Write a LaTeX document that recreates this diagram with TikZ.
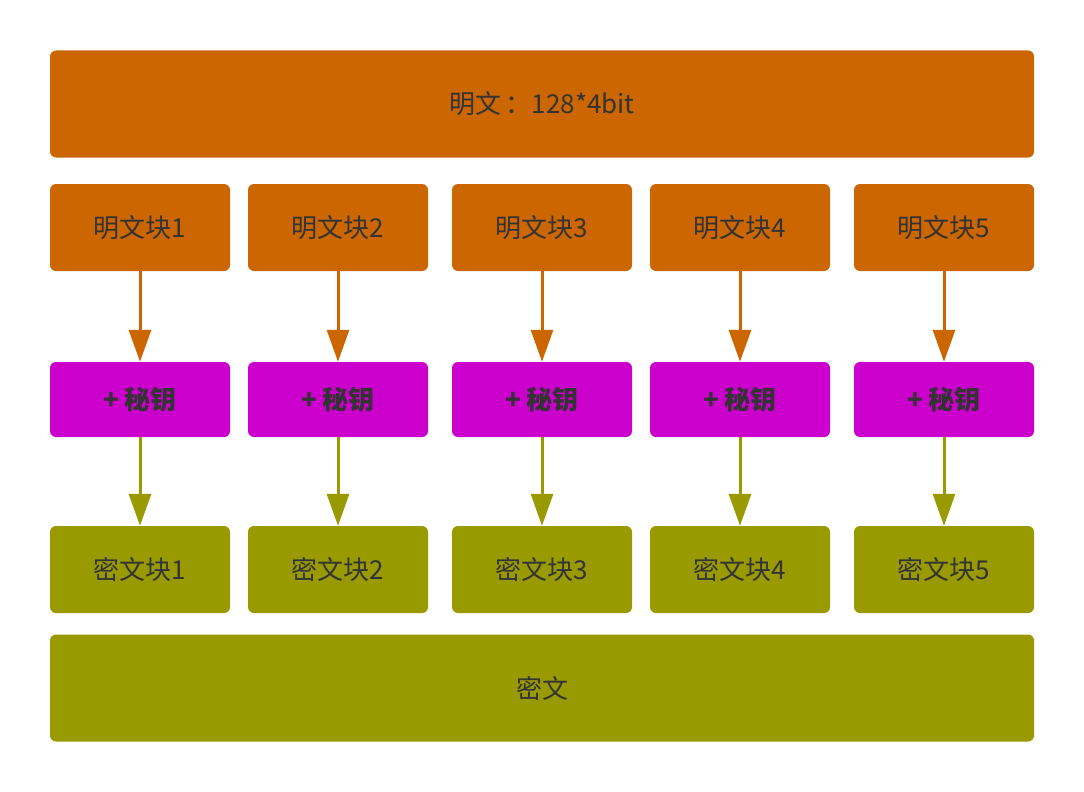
\documentclass[tikz,border=0pt]{standalone}
\usepackage{fontspec}
\setmainfont{Noto Sans CJK SC}
\usetikzlibrary{arrows.meta}
\definecolor{org}{HTML}{CC6600}
\definecolor{mag}{HTML}{CC00CC}
\definecolor{olv}{HTML}{999900}
\definecolor{txt}{HTML}{333333}
\begin{document}
\begin{tikzpicture}[x=1pt,y=-1pt,
  box/.style={rounded corners=6pt,minimum height=#1,inner sep=0pt,text=txt,font=\fontsize{26}{30}\selectfont},
  bar/.style={box=107pt,minimum width=984pt},
  blk/.style={box=87pt,minimum width=180pt},
  keyb/.style={box=75pt,minimum width=180pt,fill=mag,font=\fontsize{26}{30}\selectfont\bfseries},
  arr/.style={line width=3pt,-{Triangle[width=22pt,length=32pt]}}]
\useasboundingbox (0,0) rectangle (1084,792);
\fill[white] (0,0) rectangle (1084,792);
\node[bar,fill=org] (top) at (542,104) {明文\,：128*4bit};
\node[bar,fill=olv] (bot) at (542,688) {密文};
\foreach \i/\x in {1/140,2/338,3/542,4/740,5/944}{
  \node[blk,fill=org] (p\i) at (\x,227.5) {明文块\i};
  \node[keyb] (k\i) at (\x,399.5) {+ 秘钥};
  \node[blk,fill=olv] (c\i) at (\x,569.5) {密文块\i};
  \draw[arr,org] (p\i) -- (k\i);
  \draw[arr,olv] (k\i) -- (c\i);
}
\end{tikzpicture}
\end{document}
